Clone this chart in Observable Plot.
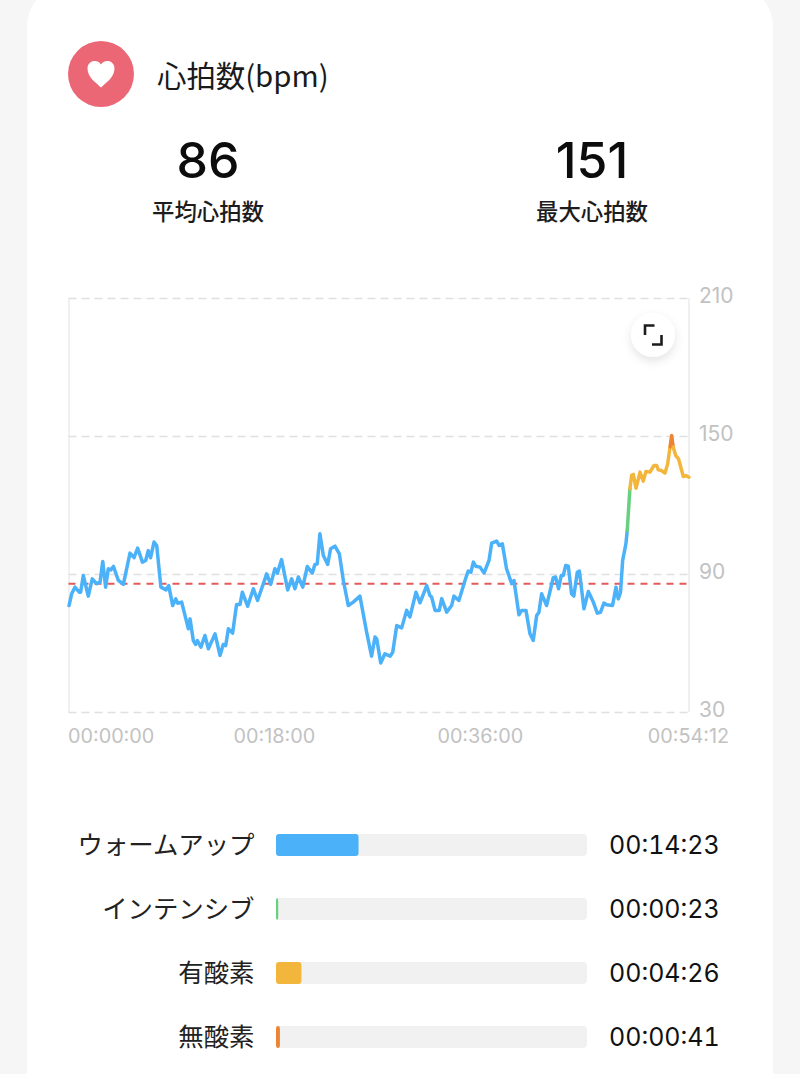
<!DOCTYPE html>
<html lang="ja">
<head>
<meta charset="utf-8">
<script src="https://cdn.jsdelivr.net/npm/d3@7"></script>
<script src="https://cdn.jsdelivr.net/npm/@observablehq/plot@0.6"></script>
<style>
html,body{margin:0;padding:0;background:#f6f6f6;width:800px;height:1074px;overflow:hidden;font-family:"Noto Sans CJK JP",sans-serif;color:#111}
#card{position:absolute;left:27px;top:-14px;width:746px;height:1200px;background:#fff;border-radius:40px}
.abs{position:absolute;white-space:nowrap}
.num{font-family:Inter,"Liberation Sans",sans-serif;font-size:50px;line-height:60px;width:240px;text-align:center;font-weight:500;color:#0c0c0c}
.lab{font-size:22.4px;line-height:30px;width:240px;text-align:center;color:#1c1c1c;font-weight:500}
#chart,#zones{position:absolute;left:0}
#chart{top:270px}
#zones{top:813px}
svg{display:block}
</style>
</head>
<body>
<div id="card"></div>
<svg class="abs" style="left:68px;top:41px" width="66" height="66" viewBox="0 0 66 66">
  <circle cx="33" cy="33" r="33" fill="#ec6775"/>
  <path d="M33 46.5C29 42.5 19.5 36.5 19.5 27.5C19.5 22.5 23.2 20 26.6 20C29.4 20 31.8 21.3 33 23.6C34.2 21.3 36.6 20 39.4 20C42.8 20 46.5 22.5 46.5 27.5C46.5 36.5 37 42.5 33 46.5Z" fill="#fff"/>
</svg>
<div class="abs" style="left:157px;top:55px;font-size:29.4px;line-height:38px;color:#1a1a1a">心拍数(bpm)</div>
<div class="abs num" style="left:88px;top:130px">86</div>
<div class="abs lab" style="left:88px;top:195px">平均心拍数</div>
<div class="abs num" style="left:472px;top:130px">151</div>
<div class="abs lab" style="left:472px;top:195px">最大心拍数</div>
<div id="chart"></div>
<div id="zones"></div>
<svg class="abs" style="left:621px;top:304px;overflow:visible" width="64" height="64" viewBox="0 0 64 64">
  <defs><filter id="sh" x="-50%" y="-50%" width="200%" height="200%"><feDropShadow dx="0" dy="4" stdDeviation="5" flood-color="#000" flood-opacity="0.11"/></filter></defs>
  <circle cx="32" cy="31" r="22" fill="#fff" filter="url(#sh)"/>
  <path d="M24 31V21.5H33.5M40.5 31V40.5H31" fill="none" stroke="#1c1c1c" stroke-width="2.6"/>
</svg>
<script>
const hrSeconds = [0,14,31,54,61,75,101,122,145,163,177,192,206,219,233,259,285,320,341,360,385,402,416,428,446,460,482,509,523,544,560,570,591,626,635,652,664,673,692,713,731,766,792,809,822,836,858,879,897,909,937,967,989,1037,1058,1080,1093,1115,1147,1168,1185,1203,1226,1250,1276,1290,1302,1316,1334,1357,1372,1395,1418,1439,1465,1491,1526,1561,1587,1605,1614,1635,1657,1684,1698,1719,1745,1771,1788,1820,1841,1876,1893,1902,1920,1942,1955,1981,2007,2019,2045,2077,2094,2108,2121,2133,2156,2177,2203,2217,2243,2257,2273,2295,2322,2334,2360,2374,2397,2418,2435,2453,2465,2479,2505,2540,2552,2568,2582,2593,2605,2619,2636,2648,2666,2677,2701,2724,2750,2771,2788,2806,2820,2851,2869,2881,2893,2904,2921,2928,2942,2951,2960,2974,2995,3012,3026,3047,3068,3082,3091,3108,3126,3140,3153,3161,3169,3182,3197,3222,3236,3252];
const hrBpm = [76.5,81.6,84.5,82.3,82.3,89.6,80.6,88.1,86,86.7,95.7,84.5,92.5,92,93.5,87.4,85.7,99.3,97.3,101.5,95.4,96.1,100.4,97.3,104.1,102.6,84.5,83.3,85.2,76.5,79.4,77.5,78,66.4,70.7,61.3,59.6,61.3,58.4,63.5,57.7,64.2,54.8,59.6,59.1,66.4,64.5,77,77,82.3,76.2,83.8,78.7,90.3,85.7,92.5,90.6,96.5,83.3,88.1,83.8,88.9,84.5,93.5,90.6,94.4,94.6,107.7,98.3,94.4,101.2,102.3,99,87.4,76.5,78,80.6,65,54.5,62.8,62,51.5,55.5,54.5,56.2,67.8,66.8,74.4,71.5,82.3,77.7,85.2,80.9,80.2,74.4,74.4,79.5,73.6,76.5,80.6,78.7,87.4,91.5,91,95.4,93.6,93.2,90.6,96.1,103.6,104.5,102.6,103.3,92.5,86,87.4,72.5,74.4,74.4,64.2,61.3,72.2,73.6,81.6,76.5,88.6,88.9,83.8,89.6,89.6,93.9,93.6,81.6,80.6,91,91.5,75.1,82.6,78,73.2,73.6,77.6,76.8,76.5,84.5,79.4,82.3,96.1,103.3,109.1,127.3,133.1,133.5,127.5,134.5,130.6,134.8,134.5,137.4,137.4,135.5,135.2,134.1,138.1,145.5,150.4,145.4,141.8,140.3,132.6,133,132.3];

const zoneNames = ["ウォームアップ","インテンシブ","有酸素","無酸素"];
const zoneColors = ["#4bb1f9","#68d07e","#f3b63d","#ec8434"];
const zoneSeconds = [863,23,266,41];
const zoneLabels = ["00:14:23","00:00:23","00:04:26","00:00:41"];
const zoneUpper = [109,127,145.45,Infinity];

const totalSeconds = 3252;
const averageBpm = 86;
const yTicks = [30,90,150,210];
const xTickSeconds = [1080,2160,3252];
const xTickLabels = ["00:18:00","00:36:00","00:54:12"];
const startLabel = "00:00:00";

const hr = hrSeconds.map((t,i)=>({t,bpm:hrBpm[i],zone:zoneNames[zoneUpper.findIndex(u=>hrBpm[i]<u)]}));
const zones = zoneNames.map((name,i)=>({name,sec:zoneSeconds[i],label:zoneLabels[i]}));
const numFont = "Inter, 'Liberation Sans', sans-serif";

const chart = Plot.plot({
  width:800,height:490,marginTop:28,marginBottom:48,marginLeft:68.5,marginRight:111.5,
  x:{domain:[0,totalSeconds],axis:null},
  y:{domain:[30,210],axis:null},
  color:{domain:zoneNames,range:zoneColors},
  style:{background:"transparent",fontFamily:numFont},
  marks:[
    Plot.ruleX([0,totalSeconds],{stroke:"#ebebeb",strokeWidth:1.5}),
    Plot.ruleY(yTicks,{stroke:"#e0e0e0",strokeWidth:1.5,strokeDasharray:"8 5"}),
    Plot.ruleY([averageBpm],{stroke:"#e25a5a",strokeWidth:2,strokeDasharray:"7 6"}),
    Plot.line(hr,{x:"t",y:"bpm",z:null,stroke:"zone",strokeWidth:3.5,strokeLinejoin:"round",strokeLinecap:"round"}),
    Plot.text(yTicks,{x:totalSeconds,y:d=>d,text:d=>String(d),dx:10,dy:-2,textAnchor:"start",fontSize:21,fill:"#c2c2c2"}),
    Plot.text([0],{x:d=>d,y:30,text:()=>startLabel,dy:24,dx:-1,textAnchor:"start",fontSize:19.8,fill:"#c2c2c2"}),
    Plot.text(xTickSeconds,{x:d=>d,y:30,text:(d,i)=>xTickLabels[i],dy:24,dx:-0.5,textAnchor:"middle",fontSize:19.8,fill:"#c2c2c2"})
  ]
});
document.getElementById("chart").appendChild(chart);

const zonesPlot = Plot.plot({
  width:800,height:256,marginTop:0,marginBottom:0,marginLeft:276,marginRight:213,
  x:{domain:[0,totalSeconds],axis:null},
  y:{domain:zoneNames,padding:0,axis:null},
  color:{domain:zoneNames,range:zoneColors},
  style:{background:"transparent"},
  marks:[
    Plot.barX(zones,{x:totalSeconds,y:"name",fill:"#f1f1f1",insetTop:21,insetBottom:21,rx:4}),
    Plot.barX(zones,{x:"sec",y:"name",fill:"name",insetTop:21,insetBottom:21,rx:3}),
    Plot.text(zones,{x:0,y:"name",text:"name",dx:-22,textAnchor:"end",fontSize:25.4,fill:"#222",fontFamily:"'Noto Sans CJK JP',sans-serif"}),
    Plot.text(zones,{x:totalSeconds,y:"name",text:"label",dx:21.5,textAnchor:"start",fontSize:25,fontVariant:"tabular-nums",fill:"#111",fontFamily:numFont})
  ]
});
document.getElementById("zones").appendChild(zonesPlot);
</script>
</body>
</html>
